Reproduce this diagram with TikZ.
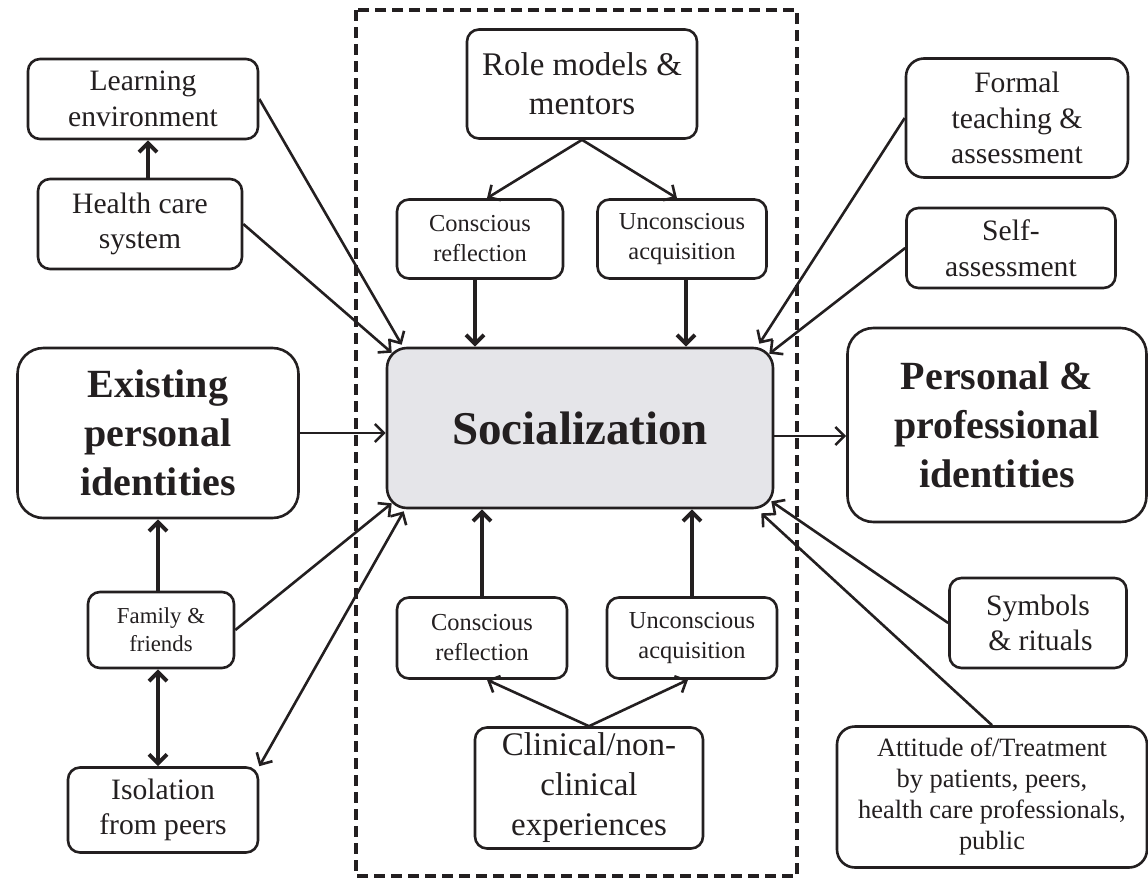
\documentclass[tikz,border=0pt]{standalone}
\usepackage{fontspec}
\setmainfont{Liberation Serif}
\usetikzlibrary{arrows.meta}

\definecolor{socfill}{RGB}{229,229,233}
\definecolor{ink}{RGB}{35,31,32}

\tikzset{
	>={Straight Barb[length=4.5pt,width=9pt]},
	box/.style={draw=ink, text=ink, line width=1.3pt, rounded corners=6pt, align=center, inner sep=0pt},
	bigbox/.style={box, rounded corners=13pt, font=\bfseries\fontsize{20}{24.5}\selectfont},
	tinytext/.style={font=\fontsize{12.2}{15}\selectfont},
	smalltext/.style={font=\fontsize{11.4}{14}\selectfont},
	medtext/.style={font=\fontsize{14.8}{17.8}\selectfont},
	largetext/.style={font=\fontsize{16.5}{19.5}\selectfont},
	arr/.style={->, draw=ink, line width=1.3pt},
	thickarr/.style={->, draw=ink, line width=2pt},
	frame/.style={draw=ink, line width=2.2pt, dash pattern=on 5.5pt off 3pt}
}

\begin{document}
\begin{tikzpicture}[x=0.5pt,y=-0.5pt]
	\useasboundingbox (0,0) rectangle (1148,879);
	
	%Dashed frame
	\draw[frame] (356,10) rectangle (797,876);
	
	%Left column
	\node[box, medtext, minimum width=115pt, minimum height=40pt] (learn) at (143,99) {Learning\\environment};
	\node[box, medtext, minimum width=102pt, minimum height=45pt] (health) at (140,224) {Health care\\system};
	\node[bigbox, minimum width=140.5pt, minimum height=85pt] (exist) at (158,433) {Existing\\personal\\identities};
	\node[box, smalltext, minimum width=73pt, minimum height=38pt] (family) at (161,630) {Family \&\\friends};
	\node[box, medtext, minimum width=95pt, minimum height=42.5pt] (isol) at (163,810) {Isolation\\from peers};
	
	%Middle column
	\node[box, largetext, minimum width=115pt, minimum height=54.5pt] (role) at (582,84) {Role models \&\\mentors};
	\node[box, tinytext, minimum width=83pt, minimum height=39.5pt] (crtop) at (480,239) {Conscious\\reflection};
	\node[box, tinytext, minimum width=84.5pt, minimum height=39.5pt] (uatop) at (682,239) {Unconscious\\acquisition};
	\node[box, fill=socfill, rounded corners=10pt, font=\bfseries\fontsize{23.5}{28}\selectfont, minimum width=193pt, minimum height=80pt] (soc) at (580,428) {Socialization};
	\node[box, tinytext, minimum width=85pt, minimum height=40.5pt] (crbot) at (482,638) {Conscious\\reflection};
	\node[box, tinytext, minimum width=85pt, minimum height=40.5pt] (uabot) at (692,638) {Unconscious\\acquisition};
	\node[box, largetext, font=\fontsize{16.5}{20}\selectfont, minimum width=114pt, minimum height=60.5pt] (clin) at (589,788) {Clinical/non-\\clinical\\experiences};
	
	%Right column
	\node[box, medtext, rounded corners=9pt, minimum width=111pt, minimum height=59.5pt] (formal) at (1017,118) {Formal\\teaching \&\\assessment};
	\node[box, medtext, minimum width=104.5pt, minimum height=40pt] (self) at (1011,248) {Self-\\assessment};
	\node[bigbox, minimum width=149.5pt, minimum height=97pt] (pers) at (997,425) {Personal \&\\professional\\identities};
	\node[box, medtext, font=\fontsize{14.8}{17.5}\selectfont, minimum width=88.5pt, minimum height=45pt] (symb) at (1038,623) {Symbols\\\,\& rituals};
	\node[box, font=\fontsize{13.2}{15.5}\selectfont, rounded corners=9pt, minimum width=155pt, minimum height=70.5pt] (att) at (992,797) {Attitude of/Treatment\\by patients, peers,\\health care professionals,\\public};
	
	%Left connectors
	\draw[thickarr] ([xshift=4pt]health.north) -- ([xshift=4pt]health.north |- learn.south);
	\draw[arr] (learn.east) -- ([shift={(8pt,1pt)}]soc.north west);
	\draw[arr] (health.east) -- ([shift={(3pt,-3pt)}]soc.north west);
	\draw[arr] (exist.east) -- (exist.east -| soc.west);
	\draw[thickarr] ([xshift=-1.5pt]family.north) -- ([xshift=-1.5pt]family.north |- exist.south);
	\draw[thickarr, <->] ([xshift=-1.5pt]family.south) -- ([xshift=-1.5pt]family.south |- isol.north);
	\draw[arr] (family.east) -- ([shift={(3pt,3pt)}]soc.south west);
	\draw[arr, <->] (isol.north east) -- ([shift={(9pt,-1pt)}]soc.south west);
	
	%Middle connectors
	\draw[arr] (role.south) -- ([xshift=3.5pt]crtop.north);
	\draw[arr] (role.south) -- ([xshift=-2.5pt]uatop.north);
	\draw[thickarr] ([xshift=-2.5pt]crtop.south) -- ([xshift=-2.5pt]crtop.south |- soc.north);
	\draw[thickarr] ([xshift=2pt]uatop.south) -- ([xshift=2pt]uatop.south |- soc.north);
	\draw[thickarr] (crbot.north) -- (crbot.north |- soc.south);
	\draw[thickarr] (uabot.north) -- (uabot.north |- soc.south);
	\draw[arr] (clin.north) -- ([xshift=2.5pt]crbot.south);
	\draw[arr] (clin.north) -- ([xshift=-2pt]uabot.south);
	
	%Right connectors
	\draw[arr] (formal.west) -- ([shift={(-7.5pt,1.5pt)}]soc.north east);
	\draw[arr] (self.west) -- ([shift={(-2.5pt,-3.5pt)}]soc.north east);
	\draw[arr] ([yshift=-4pt]soc.east) -- ([yshift=-4pt]soc.east -| pers.west);
	\draw[arr] (symb.west) -- ([shift={(-1.5pt,4pt)}]soc.south east);
	\draw[arr] (att.north) -- ([shift={(-6.5pt,-2pt)}]soc.south east);
	
\end{tikzpicture}
\end{document}
